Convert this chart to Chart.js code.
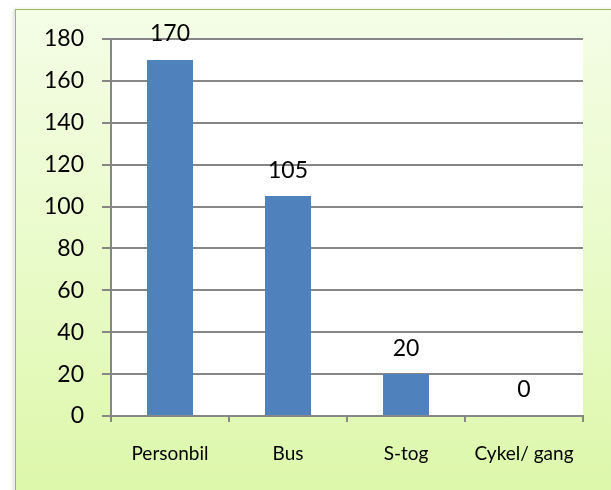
<!DOCTYPE html>
<html lang="da">
<head>
<meta charset="UTF-8" />
<title>Transport</title>
<script src="https://cdn.jsdelivr.net/npm/chart.js"></script>
<style>
    html, body { margin: 0; padding: 0; width: 611px; height: 490px; overflow: hidden; background: #fff; }
    #frame {
        position: absolute; left: 15px; top: 9px; width: 610px; height: 500px;
        border: 1.5px solid #9bbb59;
        background: linear-gradient(to bottom, #f4fde6 0%, #e9fbc9 50%, #dcf7a8 100%);
        box-shadow: -2px 0 3px rgba(0,0,0,0.12);
    }
    #wrap { position: absolute; left: 0; top: 0; width: 611px; height: 490px; }
</style>
</head>
<body>
<div id="frame"></div>
<div id="wrap"><canvas id="chart" width="611" height="490"></canvas></div>

<script>
    const categories = ["Personbil", "Bus", "S-tog", "Cykel/ gang"];
    const values = [170, 105, 20, 0];
    const yTicks = [0, 20, 40, 60, 80, 100, 120, 140, 160, 180];

    // hvid plotflade
    const plotBg = {
        id: "plotBg",
        beforeDraw(chart) {
            const { ctx, chartArea: a } = chart;
            ctx.save();
            ctx.fillStyle = "#ffffff";
            ctx.fillRect(a.left, a.top, a.right - a.left, a.bottom - a.top);
            ctx.restore();
        }
    };

    // værdier over søjlerne
    const valueLabels = {
        id: "valueLabels",
        afterDatasetsDraw(chart) {
            const { ctx } = chart;
            const meta = chart.getDatasetMeta(0);
            ctx.save();
            ctx.font = "23px Lato";
            ctx.fillStyle = "#000";
            ctx.textAlign = "center";
            ctx.textBaseline = "middle";
            meta.data.forEach((bar, i) => {
                ctx.fillText(String(values[i]), bar.x, bar.y - 26);
            });
            ctx.restore();
        }
    };

    new Chart(document.getElementById("chart"), {
        type: "bar",
        data: {
            labels: categories,
            datasets: [{
                data: values,
                backgroundColor: "#4f81bd",
                categoryPercentage: 0.78,
                barPercentage: 0.5
            }]
        },
        options: {
            responsive: false,
            animation: false,
            layout: { padding: { left: 0, top: 39, right: 28, bottom: 24 } },
            plugins: { legend: { display: false }, tooltip: { enabled: false } },
            scales: {
                x: {
                    offset: true,
                    grid: { offset: true, drawOnChartArea: false, tickLength: 6, color: "#868686", lineWidth: 2 },
                    border: { color: "#868686", width: 2 },
                    ticks: { color: "#000", font: { family: "Lato", size: 19 }, padding: 20, maxRotation: 0 },
                    afterFit(scale) { scale.height = 50; }
                },
                y: {
                    min: 0,
                    max: 180,
                    afterBuildTicks(scale) { scale.ticks = yTicks.map(v => ({ value: v })); },
                    grid: { color: "#868686", lineWidth: 2, tickLength: 9 },
                    border: { color: "#868686", width: 2 },
                    ticks: { color: "#000", font: { family: "Lato", size: 23 }, padding: 18 },
                    afterFit(scale) { scale.width = 111; }
                }
            }
        },
        plugins: [plotBg, valueLabels]
    });
</script>
</body>
</html>
